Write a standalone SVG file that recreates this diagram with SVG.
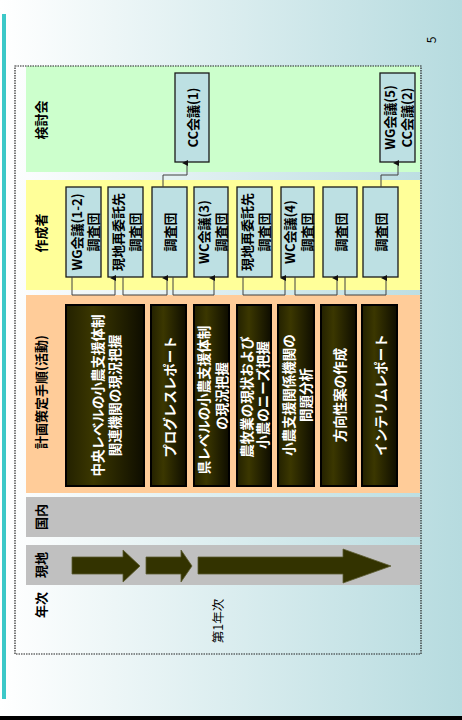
<svg xmlns="http://www.w3.org/2000/svg" width="462" height="720" viewBox="0 0 462 720">
<defs>
<linearGradient id="bg" x1="0" y1="0" x2="1" y2="0">
<stop offset="0" stop-color="#ffffff"/>
<stop offset="1" stop-color="#b6dbdf"/>
</linearGradient>
<linearGradient id="act" x1="0" y1="0" x2="1" y2="0">
<stop offset="0" stop-color="#232100"/>
<stop offset="0.35" stop-color="#3b3700"/>
<stop offset="1" stop-color="#0e0d00"/>
</linearGradient>
<marker id="ah" markerWidth="6" markerHeight="6" refX="3" refY="5" orient="auto-start-reverse" markerUnits="userSpaceOnUse" viewBox="0 0 6 6">
<path d="M0,6 L3,0 L6,6 Z" fill="#111"/>
</marker>
<style>
.lbl{font-family:"Noto Sans CJK JP","Noto Sans",sans-serif;font-weight:700;font-size:13px;fill:#000;text-anchor:middle;dominant-baseline:central}
.bt{font-family:"Noto Sans CJK JP","Noto Sans",sans-serif;font-weight:700;font-size:13px;fill:#000;text-anchor:middle;dominant-baseline:central}
.at{font-family:"Noto Sans CJK JP","Noto Sans",sans-serif;font-weight:700;font-size:13.5px;fill:#fff;text-anchor:middle;dominant-baseline:central}
.box{fill:#bde0e3;stroke:#1a1a1a;stroke-width:1.3}
.abox{fill:url(#act);stroke:#000;stroke-width:2}
.conn{fill:none;stroke:#404040;stroke-width:1}
.arr{fill:#333300;stroke:#5c5c30;stroke-width:0.8}
</style>
</defs>
<rect x="0" y="0" width="462" height="720" fill="url(#bg)"/>
<rect x="2" y="14" width="4" height="685" fill="#3cc8c8"/>
<rect x="0" y="716" width="462" height="4" fill="#000"/>
<text class="lbl" style="font-weight:400;font-size:12px" transform="translate(430,40) rotate(-90)">5</text>

<g id="bands">
<rect x="26" y="66" width="394" height="106" fill="#ccffcc"/>
<rect x="26" y="180" width="394" height="110" fill="#ffff99"/>
<rect x="26" y="295" width="394" height="198" fill="#ffcc99"/>
<rect x="26" y="497" width="394" height="40" fill="#c0c0c0"/>
<rect x="26" y="545" width="394" height="40" fill="#c0c0c0"/>
</g>
<rect x="15" y="66" width="406" height="588" fill="none" stroke="#222" stroke-width="1.2" stroke-dasharray="1.5,1"/>

<g id="labels">
<text class="lbl" transform="translate(40,120) rotate(-90)">検討会</text>
<text class="lbl" transform="translate(40,233) rotate(-90)">作成者</text>
<text class="lbl" transform="translate(40,392) rotate(-90)">計画策定手順(活動)</text>
<text class="lbl" transform="translate(40,517) rotate(-90)">国内</text>
<text class="lbl" transform="translate(40,565) rotate(-90)">現地</text>
<text class="lbl" transform="translate(40,605) rotate(-90)">年次</text>
<text class="lbl" style="font-weight:400;font-size:12.5px" transform="translate(217,621) rotate(-90)">第1年次</text>
</g>

<g id="field-arrows">
<polygon class="arr" points="72,557 123,557 123,550 140,566 123,582 123,574 72,574"/>
<polygon class="arr" points="146,557 181,557 181,550 192,566 181,582 181,574 146,574"/>
<polygon class="arr" points="198,557 343,557 343,549 391,566 343,583 343,574 198,574"/>
</g>

<g id="cc1"><rect class="box" x="175" y="73" width="34" height="89"/>
<text class="bt" transform="translate(192,117.5) rotate(-90)">CC会議(1)</text></g>
<g id="wg5cc2"><rect class="box" x="380" y="73" width="35" height="89"/>
<text class="bt" transform="translate(389,117.5) rotate(-90)">WG会議(5)</text>
<text class="bt" transform="translate(406,117.5) rotate(-90)">CC会議(2)</text></g>

<g id="y1"><rect class="box" x="66" y="187" width="35" height="90"/>
<text class="bt" transform="translate(76.5,232) rotate(-90)">WG会議(1-2)</text>
<text class="bt" transform="translate(92,232) rotate(-90)">調査団</text></g>
<g id="y2"><rect class="box" x="108" y="187" width="35" height="90"/>
<text class="bt" transform="translate(117.5,232) rotate(-90)">現地再委託先</text>
<text class="bt" transform="translate(134,232) rotate(-90)">調査団</text></g>
<g id="y3"><rect class="box" x="152" y="187" width="35" height="90"/>
<text class="bt" transform="translate(169.5,232) rotate(-90)">調査団</text></g>
<g id="y4"><rect class="box" x="194" y="187" width="34" height="90"/>
<text class="bt" transform="translate(203.5,232) rotate(-90)">WC会議(3)</text>
<text class="bt" transform="translate(220,232) rotate(-90)">調査団</text></g>
<g id="y5"><rect class="box" x="237" y="187" width="35" height="90"/>
<text class="bt" transform="translate(246,232) rotate(-90)">現地再委託先</text>
<text class="bt" transform="translate(263,232) rotate(-90)">調査団</text></g>
<g id="y6"><rect class="box" x="281" y="187" width="33" height="90"/>
<text class="bt" transform="translate(289,232) rotate(-90)">WC会議(4)</text>
<text class="bt" transform="translate(306,232) rotate(-90)">調査団</text></g>
<g id="y7"><rect class="box" x="323" y="187" width="34" height="90"/>
<text class="bt" transform="translate(340,232) rotate(-90)">調査団</text></g>
<g id="y8"><rect class="box" x="363" y="187" width="35" height="90"/>
<text class="bt" transform="translate(380.5,232) rotate(-90)">調査団</text></g>

<g id="a1"><rect class="abox" x="66" y="305" width="78" height="181"/>
<text class="at" transform="translate(97,395.5) rotate(-90)">中央レベルの小農支援体制</text>
<text class="at" transform="translate(114,395.5) rotate(-90)">関連機関の現況把握</text></g>
<g id="a2"><rect class="abox" x="151" y="305" width="35" height="181"/>
<text class="at" transform="translate(168.5,397) rotate(-90)">プログレスレポート</text></g>
<g id="a3"><rect class="abox" x="194" y="305" width="35" height="181"/>
<text class="at" transform="translate(203,400) rotate(-90)">県レベルの小農支援体制</text>
<text class="at" transform="translate(220.5,396) rotate(-90)">の現況把握</text></g>
<g id="a4"><rect class="abox" x="237" y="305" width="34" height="181"/>
<text class="at" transform="translate(246,397) rotate(-90)">農牧業の現状および</text>
<text class="at" transform="translate(262,395) rotate(-90)">小農のニーズ把握</text></g>
<g id="a5"><rect class="abox" x="278" y="305" width="36" height="181"/>
<text class="at" transform="translate(288,395) rotate(-90)">小農支援関係機関の</text>
<text class="at" transform="translate(305,395) rotate(-90)">問題分析</text></g>
<g id="a6"><rect class="abox" x="321" y="305" width="35" height="181"/>
<text class="at" transform="translate(338.5,395) rotate(-90)">方向性案の作成</text></g>
<g id="a7"><rect class="abox" x="362" y="305" width="35" height="181"/>
<text class="at" transform="translate(379.5,395) rotate(-90)">インテリムレポート</text></g>

<g id="connectors">
<path class="conn" d="M72,277 V295 H115 V278" marker-end="url(#ah)"/>
<path class="conn" d="M123,277 V295 H167 V278" marker-end="url(#ah)"/>
<path class="conn" d="M173,277 V295 H214 V278" marker-end="url(#ah)"/>
<path class="conn" d="M243,277 V295 H285 V278" marker-end="url(#ah)"/>
<path class="conn" d="M295,277 V295 H337 V278" marker-end="url(#ah)"/>
<path class="conn" d="M345,277 V295 H386 V278" marker-end="url(#ah)"/>
<path class="conn" d="M163,187 V175 H187 V163" marker-end="url(#ah)"/>
<path class="conn" d="M381,187 V175 H398 V163" marker-end="url(#ah)"/>
</g>
</svg>
